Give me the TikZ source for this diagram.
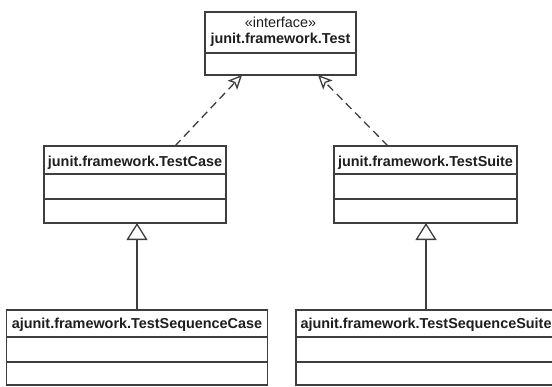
\documentclass[tikz,border=0pt]{standalone}
\usepackage{fontspec}
\setmainfont{Liberation Sans}
\usetikzlibrary{arrows.meta,calc}

\definecolor{umlline}{RGB}{62,62,62}
\definecolor{umltext}{RGB}{30,30,30}

\tikzset{
  classbox/.style={draw=umlline, fill=white, line width=1.3bp, inner sep=0pt, outer sep=0pt},
  classname/.style={anchor=base, inner sep=0pt, text=umltext,
    font=\bfseries\fontsize{14.4bp}{17bp}\selectfont},
  stereo/.style={anchor=base, inner sep=0pt, text=umltext,
    font=\fontsize{14.4bp}{17bp}\selectfont},
  divider/.style={draw=umlline, line width=1.3bp},
  realizes/.style={draw=umlline, line width=1.3bp, dash pattern=on 8bp off 5bp,
    -{Stealth[open, length=14bp, width=13bp, inset=3bp, line width=1.3bp]}},
  inherits/.style={draw=umlline, line width=1.3bp,
    -{Triangle[open, length=17bp, width=21bp, line width=1.3bp]}}
}

\begin{document}
\begin{tikzpicture}[x=1bp, y=-1bp]
  \useasboundingbox (0,0) rectangle (552,386);
  \begin{scope}
  \clip (0,0) rectangle (552,386);

  % interface junit.framework.Test
  \node[classbox, minimum width=151bp, minimum height=63bp] (test) at (280.5,43.5) {};
  \draw[divider] ($(test.north west)+(0,41)$) -- ($(test.north east)+(0,41)$);
  \node[stereo] (teststereo) at ($(test.north)+(0,15)$) {«interface»};
  \node[classname] (testname) at ($(test.north)+(0,31)$) {junit.framework.Test};

  % junit.framework.TestCase
  \node[classbox, minimum width=182bp, minimum height=77bp] (case) at (135,184.5) {};
  \draw[divider] ($(case.north west)+(0,28)$) -- ($(case.north east)+(0,28)$);
  \draw[divider] ($(case.north west)+(0,53)$) -- ($(case.north east)+(0,53)$);
  \node[classname] (casename) at ($(case.north)+(0,20)$) {junit.framework.TestCase};

  % junit.framework.TestSuite
  \node[classbox, minimum width=183bp, minimum height=77bp] (suite) at (425.5,184.5) {};
  \draw[divider] ($(suite.north west)+(0,28)$) -- ($(suite.north east)+(0,28)$);
  \draw[divider] ($(suite.north west)+(0,53)$) -- ($(suite.north east)+(0,53)$);
  \node[classname] (suitename) at ($(suite.north)+(0,20)$) {junit.framework.TestSuite};

  % ajunit.framework.TestSequenceCase
  \node[classbox, minimum width=261bp, minimum height=75bp] (seqcase) at (137,347.5) {};
  \draw[divider] ($(seqcase.north west)+(0,27)$) -- ($(seqcase.north east)+(0,27)$);
  \draw[divider] ($(seqcase.north west)+(0,52)$) -- ($(seqcase.north east)+(0,52)$);
  \node[classname] (seqcasename) at ($(seqcase.north)+(0,18)$) {ajunit.framework.TestSequenceCase};

  % ajunit.framework.TestSequenceSuite
  \node[classbox, minimum width=260bp, minimum height=75bp] (seqsuite) at (426,347.5) {};
  \draw[divider] ($(seqsuite.north west)+(0,27)$) -- ($(seqsuite.north east)+(0,27)$);
  \draw[divider] ($(seqsuite.north west)+(0,52)$) -- ($(seqsuite.north east)+(0,52)$);
  \node[classname] (seqsuitename) at ($(seqsuite.north)+(0,18)$) {ajunit.framework.TestSequenceSuite};

  % realization of the interface
  \draw[realizes] ($(case.north)+(40,0)$) -- ($(test.south)+(-38.5,0)$);
  \draw[realizes] ($(suite.north)+(-37.5,0)$) -- ($(test.south)+(37.5,0)$);

  % generalization
  \draw[inherits] (seqcase.north) -- (seqcase.north |- case.south);
  \draw[inherits] (seqsuite.north) -- (seqsuite.north |- suite.south);
  \end{scope}
\end{tikzpicture}
\end{document}
